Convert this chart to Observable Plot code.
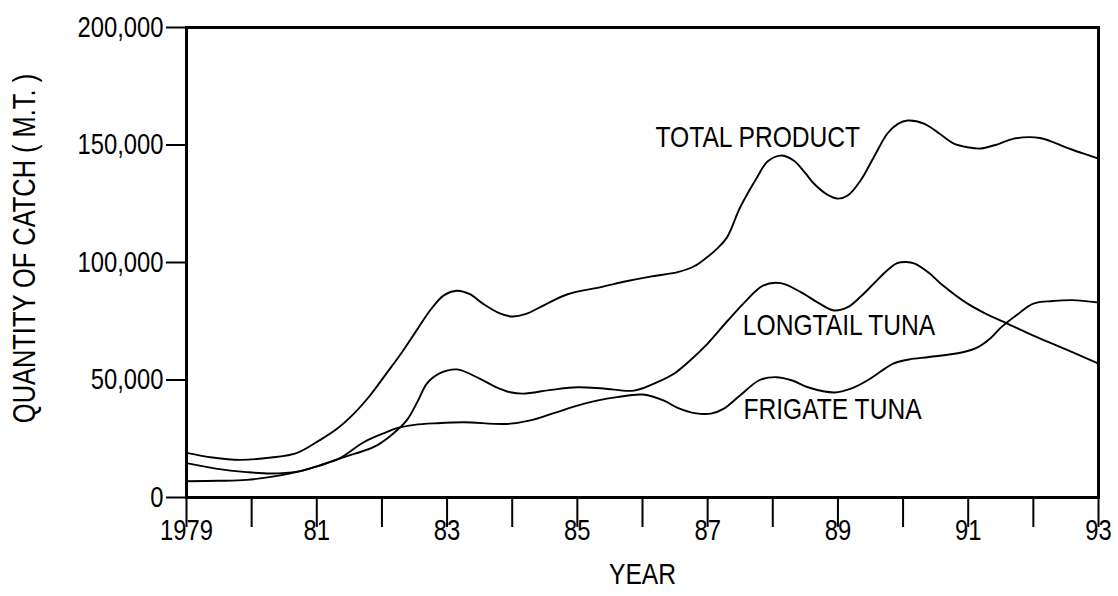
<!DOCTYPE html>
<html>
<head>
<meta charset="utf-8">
<script src="https://cdn.jsdelivr.net/npm/d3@7"></script>
<script src="https://cdn.jsdelivr.net/npm/@observablehq/plot@0.6"></script>
<style>
  html, body { margin: 0; padding: 0; background: #fff; }
  #chart svg { display: block; }
</style>
</head>
<body>
<div id="chart"></div>
<script>
// ---- data (year, metric tons) ----
const totalProduct = [
  [1979.0, 19000], [1979.4, 17000], [1979.82, 16000], [1980.3, 17000], [1980.69, 18900],
  [1981.04, 24300], [1981.3, 29000], [1981.57, 35700], [1981.82, 43500], [1982.07, 52800],
  [1982.3, 61500], [1982.53, 71000], [1982.75, 80000], [1982.95, 86000], [1983.15, 88000],
  [1983.35, 86500], [1983.55, 82500], [1983.8, 78500], [1984.0, 77000], [1984.2, 78000],
  [1984.5, 82000], [1984.85, 86500], [1985.36, 89500], [1985.75, 92000], [1986.12, 94000],
  [1986.54, 95900], [1986.8, 98500], [1986.99, 102200], [1987.15, 106000], [1987.3, 110800],
  [1987.5, 123500], [1987.76, 136300], [1987.92, 143000], [1988.12, 145500], [1988.32, 143400],
  [1988.5, 138000], [1988.63, 133600], [1988.83, 129000], [1989.0, 127200], [1989.15, 128500],
  [1989.35, 135000], [1989.55, 144800], [1989.76, 154900], [1989.92, 159000], [1990.07, 160400],
  [1990.32, 159100], [1990.55, 155000], [1990.78, 150600], [1991.0, 149000], [1991.19, 148500],
  [1991.45, 150300], [1991.7, 152700], [1992.1, 153000], [1992.5, 149000], [1992.75, 146500],
  [1993.0, 144200]
];
const longtailTuna = [
  [1979.0, 14600], [1979.45, 12300], [1979.92, 10800], [1980.3, 10200], [1980.7, 11000],
  [1981.04, 13600], [1981.35, 16600], [1981.6, 18800], [1981.87, 21400], [1982.12, 26000],
  [1982.38, 32800], [1982.55, 41000], [1982.69, 48500], [1982.9, 53000], [1983.15, 54500],
  [1983.5, 50600], [1983.75, 47000], [1983.97, 44800], [1984.17, 44200], [1984.6, 45800],
  [1985.0, 46900], [1985.4, 46400], [1985.87, 45500], [1986.22, 49000], [1986.5, 53000],
  [1986.73, 58300], [1987.0, 65500], [1987.3, 75000], [1987.6, 84000], [1987.85, 90200],
  [1988.12, 91200], [1988.43, 87400], [1988.7, 82800], [1988.94, 79600], [1989.15, 81000],
  [1989.35, 85500], [1989.55, 91000], [1989.75, 96500], [1989.91, 99700], [1990.05, 100200],
  [1990.17, 99600], [1990.4, 95500], [1990.58, 91000], [1990.99, 82500], [1991.3, 77800],
  [1991.6, 74000], [1992.0, 68900], [1992.5, 63000], [1993.0, 57000]
];
const frigateTuna = [
  [1979.0, 6900], [1979.5, 7100], [1979.92, 7500], [1980.3, 8800], [1980.7, 10900],
  [1981.04, 13600], [1981.35, 16600], [1981.72, 23500], [1982.07, 27800], [1982.22, 29400],
  [1982.5, 30900], [1982.84, 31600], [1983.26, 32000], [1983.92, 31300], [1984.28, 32800],
  [1984.65, 36000], [1985.0, 39100], [1985.3, 41200], [1985.61, 42700], [1986.0, 43800],
  [1986.32, 41300], [1986.55, 38000], [1986.8, 35900], [1987.05, 35700], [1987.25, 37800],
  [1987.5, 43500], [1987.8, 50000], [1988.05, 51200], [1988.3, 49800], [1988.55, 46800],
  [1988.95, 44700], [1989.2, 46300], [1989.45, 49800], [1989.65, 53500], [1989.85, 57000],
  [1990.1, 58800], [1990.4, 59800], [1990.9, 61700], [1991.15, 64000], [1991.35, 68000],
  [1991.5, 72300], [1991.75, 77800], [1992.0, 82500], [1992.3, 83600], [1992.6, 84000],
  [1993.0, 83000]
];
const seriesLabels = [
  {name: "TOTAL PRODUCT", year: 1986.2, value: 153400},
  {name: "LONGTAIL TUNA", year: 1987.54, value: 73200},
  {name: "FRIGATE TUNA", year: 1987.55, value: 37700}
];
const allYears = d3.range(1979, 1994);
const labeledYears = [1979, 1981, 1983, 1985, 1987, 1989, 1991, 1993];
const yTicks = [0, 50000, 100000, 150000, 200000];
const yTitle = "QUANTITY OF CATCH ( M.T. )";
const xTitle = "YEAR";

const FONT = "'Liberation Sans', Arial, sans-serif";

const toRows = (arr) => arr.map(([year, value]) => ({year, value}));
const lineOpts = {x: "year", y: "value", curve: "catmull-rom", stroke: "#000", strokeWidth: 1.9};

const chart = Plot.plot({
  width: 1118,
  height: 596,
  marginLeft: 186,
  marginRight: 20,
  marginTop: 27,
  marginBottom: 99,
  style: {fontFamily: FONT, fontSize: "29px", color: "#000", background: "#fff"},
  x: {domain: [1979, 1993]},
  y: {domain: [0, 200000]},
  marks: [
    Plot.axisX({ticks: allYears, tickSize: 30, tickFormat: () => "", strokeWidth: 2, label: null}),
    Plot.axisX({ticks: labeledYears, tickSize: 0, tickPadding: 22, fontSize: 29,
      tickFormat: d => d === 1979 ? "1979" : String(d % 100).padStart(2, "0"), label: null}),
    Plot.axisY({ticks: yTicks, tickSize: 20, tickPadding: 3, fontSize: 29, strokeWidth: 2,
      tickFormat: d3.format(","), label: null}),
    Plot.frame({stroke: "#000", strokeWidth: 3}),
    Plot.line(toRows(totalProduct), lineOpts),
    Plot.line(toRows(longtailTuna), lineOpts),
    Plot.line(toRows(frigateTuna), lineOpts),
    Plot.text(seriesLabels, {x: "year", y: "value", text: "name", textAnchor: "start", fontSize: 30, fill: "#000"}),
    Plot.text([yTitle], {frameAnchor: "left", textAnchor: "middle", dx: -161, dy: -14, rotate: -90, fontSize: 31, fill: "#000"}),
    Plot.text([xTitle], {frameAnchor: "bottom", textAnchor: "middle", dy: 86, fontSize: 30, fill: "#000"})
  ]
});
document.getElementById("chart").appendChild(chart);

// emulate the condensed (Arial Narrow-like) face of the reference
const squeeze = 0.82;
chart.querySelectorAll("text").forEach(t => {
  const len = t.getComputedTextLength();
  if (len > 0) {
    t.setAttribute("textLength", (len * squeeze).toFixed(1));
    t.setAttribute("lengthAdjust", "spacingAndGlyphs");
  }
});
</script>
</body>
</html>
